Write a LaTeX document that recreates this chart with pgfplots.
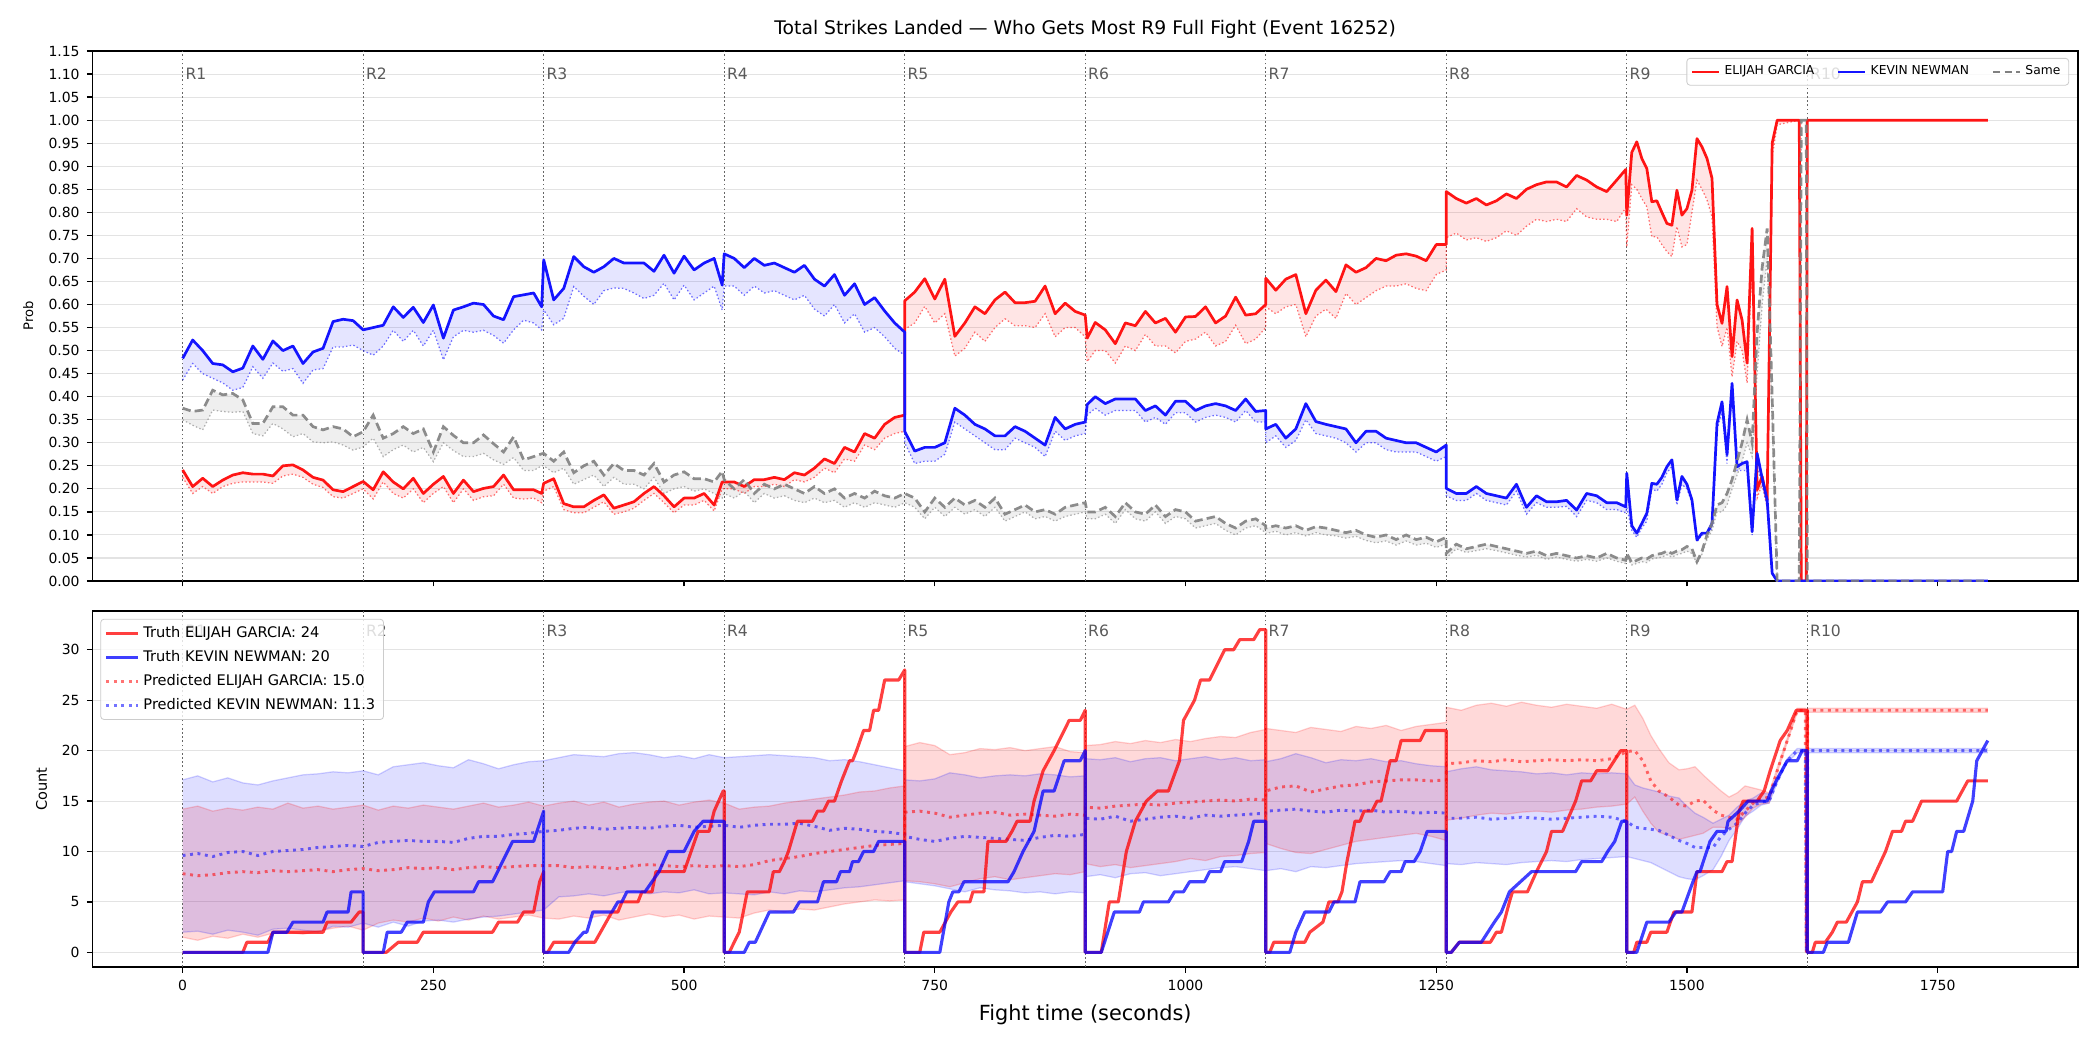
\documentclass[border=0pt]{standalone}
\usepackage{fontspec}
\setmainfont{DejaVu Sans}
\usepackage{pgfplots}
\usepackage{pgfplotstable}
\pgfplotsset{compat=1.18}
\usepgfplotslibrary{fillbetween}
\definecolor{lr}{RGB}{255,20,20}
\definecolor{lb}{RGB}{20,20,255}
\definecolor{lg}{RGB}{128,128,128}
\definecolor{rl}{RGB}{90,90,90}

\pgfplotstableread[row sep=\\]{
t E El K Kl S Sl\\
0 0.241 0.225 0.483 0.436 0.375 0.350\\
10 0.205 0.190 0.523 0.472 0.368 0.338\\
20 0.223 0.205 0.500 0.450 0.371 0.328\\
30 0.205 0.190 0.472 0.440 0.414 0.371\\
40 0.219 0.205 0.469 0.430 0.404 0.368\\
50 0.230 0.212 0.454 0.414 0.407 0.366\\
60 0.235 0.215 0.462 0.420 0.393 0.368\\
70 0.232 0.215 0.510 0.465 0.342 0.320\\
80 0.232 0.215 0.481 0.440 0.342 0.315\\
90 0.228 0.212 0.521 0.473 0.378 0.342\\
100 0.250 0.228 0.500 0.455 0.378 0.330\\
110 0.252 0.232 0.510 0.461 0.360 0.313\\
120 0.241 0.225 0.472 0.429 0.360 0.320\\
130 0.225 0.210 0.497 0.458 0.335 0.302\\
140 0.219 0.203 0.505 0.461 0.328 0.300\\
150 0.198 0.183 0.563 0.508 0.335 0.302\\
160 0.194 0.180 0.568 0.508 0.330 0.295\\
170 0.205 0.190 0.565 0.512 0.313 0.284\\
180 0.216 0.200 0.545 0.500 0.324 0.291\\
190 0.198 0.178 0.550 0.490 0.360 0.310\\
200 0.237 0.215 0.555 0.510 0.310 0.270\\
210 0.215 0.190 0.595 0.544 0.320 0.285\\
220 0.200 0.180 0.572 0.520 0.335 0.295\\
230 0.223 0.200 0.594 0.544 0.320 0.280\\
240 0.190 0.170 0.561 0.510 0.330 0.290\\
250 0.210 0.190 0.599 0.544 0.280 0.259\\
260 0.227 0.205 0.527 0.480 0.335 0.300\\
270 0.190 0.170 0.588 0.530 0.316 0.283\\
280 0.219 0.200 0.595 0.544 0.300 0.270\\
290 0.194 0.175 0.603 0.540 0.300 0.270\\
300 0.201 0.183 0.600 0.544 0.317 0.277\\
310 0.205 0.185 0.575 0.533 0.298 0.263\\
320 0.230 0.210 0.567 0.516 0.280 0.253\\
330 0.198 0.180 0.617 0.545 0.313 0.268\\
340 0.198 0.178 0.621 0.566 0.263 0.240\\
350 0.198 0.180 0.625 0.560 0.270 0.240\\
358 0.190 0.170 0.595 0.545 0.276 0.250\\
360 0.212 0.195 0.697 0.588 0.277 0.250\\
370 0.222 0.205 0.610 0.556 0.260 0.235\\
380 0.168 0.155 0.635 0.570 0.280 0.245\\
390 0.161 0.148 0.704 0.639 0.235 0.210\\
400 0.161 0.148 0.682 0.618 0.250 0.220\\
410 0.175 0.160 0.670 0.600 0.260 0.230\\
420 0.187 0.172 0.682 0.630 0.230 0.205\\
430 0.158 0.145 0.700 0.636 0.255 0.225\\
440 0.165 0.150 0.690 0.635 0.240 0.210\\
450 0.172 0.158 0.690 0.625 0.240 0.210\\
460 0.190 0.175 0.690 0.613 0.230 0.200\\
470 0.205 0.190 0.672 0.620 0.255 0.225\\
480 0.185 0.170 0.707 0.646 0.215 0.190\\
490 0.161 0.148 0.668 0.610 0.230 0.200\\
500 0.180 0.165 0.705 0.642 0.237 0.205\\
510 0.180 0.165 0.675 0.610 0.222 0.195\\
520 0.190 0.175 0.690 0.625 0.222 0.200\\
530 0.165 0.152 0.700 0.640 0.215 0.190\\
538 0.215 0.200 0.642 0.588 0.238 0.180\\
540 0.215 0.200 0.710 0.640 0.220 0.190\\
550 0.215 0.200 0.700 0.640 0.200 0.180\\
560 0.205 0.190 0.680 0.620 0.220 0.195\\
570 0.220 0.205 0.700 0.640 0.190 0.170\\
580 0.220 0.205 0.685 0.625 0.210 0.190\\
590 0.225 0.210 0.690 0.630 0.200 0.180\\
600 0.220 0.205 0.680 0.620 0.210 0.185\\
610 0.235 0.220 0.670 0.610 0.200 0.175\\
620 0.230 0.215 0.685 0.620 0.190 0.170\\
630 0.245 0.225 0.655 0.590 0.205 0.180\\
640 0.265 0.245 0.640 0.575 0.190 0.170\\
650 0.255 0.235 0.665 0.600 0.200 0.175\\
660 0.290 0.265 0.620 0.560 0.180 0.160\\
670 0.280 0.260 0.645 0.580 0.190 0.170\\
680 0.320 0.295 0.600 0.540 0.180 0.160\\
690 0.310 0.285 0.615 0.550 0.195 0.170\\
700 0.340 0.310 0.586 0.530 0.185 0.165\\
710 0.355 0.320 0.560 0.505 0.180 0.160\\
720 0.360 0.325 0.540 0.490 0.190 0.170\\
720 0.608 0.546 0.325 0.300 0.190 0.170\\
730 0.627 0.560 0.282 0.255 0.180 0.160\\
740 0.656 0.596 0.290 0.260 0.150 0.135\\
750 0.612 0.560 0.290 0.260 0.180 0.160\\
760 0.655 0.580 0.300 0.275 0.160 0.140\\
770 0.531 0.488 0.375 0.345 0.180 0.160\\
780 0.560 0.505 0.360 0.330 0.165 0.145\\
790 0.595 0.540 0.340 0.315 0.175 0.155\\
800 0.580 0.520 0.330 0.300 0.160 0.140\\
810 0.610 0.550 0.315 0.285 0.180 0.160\\
820 0.627 0.569 0.315 0.285 0.145 0.130\\
830 0.604 0.554 0.335 0.310 0.155 0.140\\
840 0.604 0.554 0.325 0.300 0.165 0.150\\
850 0.607 0.550 0.310 0.290 0.150 0.135\\
860 0.640 0.580 0.295 0.270 0.155 0.140\\
870 0.580 0.530 0.355 0.325 0.145 0.130\\
880 0.603 0.550 0.330 0.305 0.160 0.140\\
890 0.585 0.550 0.340 0.315 0.165 0.145\\
900 0.577 0.530 0.345 0.320 0.170 0.150\\
902 0.527 0.476 0.383 0.360 0.150 0.135\\
910 0.561 0.500 0.400 0.375 0.150 0.135\\
920 0.545 0.500 0.385 0.360 0.160 0.145\\
930 0.515 0.473 0.395 0.370 0.140 0.125\\
940 0.560 0.510 0.395 0.370 0.170 0.155\\
950 0.554 0.500 0.395 0.370 0.150 0.135\\
960 0.585 0.535 0.370 0.345 0.145 0.130\\
970 0.560 0.510 0.380 0.355 0.165 0.150\\
980 0.570 0.510 0.360 0.340 0.140 0.125\\
990 0.540 0.495 0.390 0.365 0.155 0.140\\
1000 0.573 0.520 0.390 0.365 0.150 0.135\\
1010 0.574 0.525 0.370 0.345 0.130 0.115\\
1020 0.595 0.540 0.380 0.355 0.135 0.120\\
1030 0.560 0.510 0.385 0.360 0.140 0.125\\
1040 0.575 0.520 0.380 0.355 0.125 0.110\\
1050 0.616 0.555 0.370 0.345 0.115 0.100\\
1060 0.577 0.515 0.395 0.370 0.130 0.115\\
1070 0.580 0.525 0.368 0.345 0.135 0.120\\
1080 0.600 0.550 0.370 0.345 0.120 0.105\\
1080 0.657 0.595 0.330 0.300 0.115 0.103\\
1090 0.631 0.580 0.340 0.315 0.120 0.108\\
1100 0.655 0.595 0.310 0.290 0.115 0.100\\
1110 0.665 0.600 0.330 0.305 0.120 0.105\\
1120 0.580 0.530 0.385 0.350 0.110 0.098\\
1130 0.631 0.575 0.346 0.320 0.118 0.105\\
1140 0.653 0.590 0.340 0.315 0.115 0.100\\
1150 0.628 0.570 0.335 0.310 0.110 0.098\\
1160 0.686 0.624 0.330 0.300 0.105 0.093\\
1170 0.670 0.600 0.300 0.280 0.110 0.097\\
1180 0.680 0.615 0.325 0.300 0.100 0.088\\
1190 0.700 0.630 0.325 0.300 0.095 0.083\\
1200 0.695 0.640 0.310 0.285 0.100 0.087\\
1210 0.707 0.640 0.305 0.280 0.090 0.078\\
1220 0.710 0.645 0.300 0.280 0.100 0.087\\
1230 0.705 0.635 0.300 0.280 0.090 0.078\\
1240 0.695 0.630 0.290 0.270 0.095 0.082\\
1250 0.730 0.665 0.280 0.260 0.085 0.073\\
1260 0.730 0.675 0.295 0.270 0.095 0.080\\
1260 0.845 0.745 0.201 0.185 0.060 0.050\\
1270 0.830 0.755 0.190 0.175 0.080 0.070\\
1280 0.820 0.740 0.190 0.175 0.070 0.062\\
1290 0.830 0.745 0.205 0.190 0.075 0.066\\
1300 0.816 0.737 0.190 0.175 0.080 0.070\\
1310 0.825 0.745 0.185 0.170 0.075 0.066\\
1320 0.840 0.760 0.180 0.165 0.070 0.061\\
1330 0.830 0.750 0.210 0.195 0.065 0.056\\
1340 0.850 0.770 0.160 0.145 0.060 0.052\\
1350 0.860 0.785 0.185 0.170 0.065 0.056\\
1360 0.866 0.780 0.172 0.160 0.055 0.047\\
1370 0.866 0.785 0.172 0.160 0.060 0.052\\
1380 0.855 0.780 0.175 0.162 0.055 0.047\\
1390 0.880 0.808 0.154 0.140 0.050 0.043\\
1400 0.870 0.790 0.190 0.175 0.055 0.047\\
1410 0.855 0.785 0.185 0.170 0.050 0.043\\
1420 0.845 0.785 0.170 0.155 0.060 0.050\\
1430 0.870 0.780 0.170 0.155 0.050 0.043\\
1439 0.893 0.810 0.161 0.148 0.045 0.038\\
1440 0.794 0.725 0.234 0.160 0.060 0.050\\
1445 0.930 0.860 0.120 0.110 0.040 0.035\\
1450 0.953 0.850 0.104 0.095 0.045 0.038\\
1455 0.917 0.830 0.125 0.115 0.050 0.042\\
1460 0.895 0.812 0.147 0.130 0.048 0.040\\
1465 0.823 0.747 0.212 0.200 0.055 0.048\\
1470 0.825 0.747 0.210 0.195 0.058 0.050\\
1475 0.800 0.730 0.225 0.210 0.060 0.052\\
1480 0.776 0.715 0.248 0.235 0.065 0.057\\
1485 0.772 0.704 0.263 0.248 0.060 0.052\\
1490 0.848 0.769 0.176 0.165 0.065 0.057\\
1495 0.794 0.725 0.227 0.210 0.068 0.060\\
1500 0.808 0.730 0.210 0.200 0.075 0.065\\
1505 0.848 0.800 0.176 0.170 0.070 0.060\\
1510 0.960 0.870 0.089 0.085 0.042 0.038\\
1515 0.942 0.850 0.104 0.100 0.065 0.058\\
1520 0.917 0.827 0.104 0.100 0.100 0.090\\
1525 0.874 0.790 0.125 0.115 0.125 0.110\\
1530 0.600 0.552 0.342 0.330 0.165 0.150\\
1535 0.559 0.509 0.389 0.365 0.170 0.150\\
1540 0.639 0.550 0.274 0.255 0.190 0.165\\
1545 0.487 0.443 0.429 0.410 0.220 0.200\\
1550 0.610 0.520 0.248 0.240 0.260 0.230\\
1555 0.566 0.500 0.255 0.240 0.300 0.260\\
1560 0.473 0.430 0.259 0.240 0.350 0.300\\
1565 0.765 0.700 0.107 0.100 0.300 0.270\\
1570 0.198 0.180 0.277 0.250 0.540 0.450\\
1575 0.227 0.210 0.223 0.210 0.680 0.600\\
1580 0.176 0.160 0.176 0.160 0.765 0.700\\
1585 0.950 0.920 0.017 0.015 0.400 0.350\\
1590 1.000 0.990 0.000 0.000 0.000 0.000\\
1612 1.000 1.000 0.000 0.000 0.000 0.000\\
1614 0.000 0.000 0.000 0.000 1.000 1.000\\
1619 0.000 0.000 0.000 0.000 1.000 1.000\\
1620 1.000 1.000 0.000 0.000 0.000 0.000\\
1800 1.000 1.000 0.000 0.000 0.000 0.000\\
}\toptab

\pgfplotstableread[row sep=\\]{
t rm rlo rhi bm blo bhi\\
0 7.8 1.5 14.2 9.6 2.0 17.1\\
15 7.6 1.2 14.5 9.8 2.1 17.5\\
30 7.7 1.6 14.0 9.5 1.8 16.9\\
45 7.9 1.4 14.3 9.9 2.2 17.3\\
60 8.0 1.8 14.1 10.0 2.0 16.8\\
75 7.9 1.5 14.4 9.6 1.7 16.6\\
90 8.1 1.9 14.2 10.0 2.3 17.0\\
105 8.0 2.0 14.8 10.1 2.4 17.3\\
120 8.1 1.8 14.3 10.2 2.2 17.6\\
135 8.2 2.1 14.5 10.4 2.0 17.7\\
150 8.0 2.4 14.2 10.5 2.6 17.9\\
165 8.2 2.6 14.4 10.6 2.5 17.8\\
180 8.3 2.2 14.6 10.5 2.9 18.0\\
195 8.1 2.9 14.1 10.9 2.5 17.6\\
210 8.2 3.2 14.5 11.0 3.0 18.4\\
225 8.4 3.0 14.3 11.1 2.6 18.6\\
240 8.3 3.4 14.6 11.0 3.1 18.8\\
255 8.4 3.1 14.4 11.0 3.2 18.5\\
270 8.2 3.5 14.2 10.9 3.0 18.3\\
285 8.4 3.2 14.5 11.3 3.3 19.1\\
300 8.5 3.6 14.8 11.5 3.5 18.7\\
315 8.4 3.3 14.4 11.5 3.6 18.2\\
330 8.5 3.5 14.6 11.7 3.8 18.6\\
345 8.6 3.7 14.9 11.8 4.0 18.9\\
360 8.6 3.4 14.5 12.0 4.2 19.0\\
375 8.6 3.3 14.8 12.1 5.5 19.3\\
390 8.4 3.6 15.0 12.3 5.6 19.6\\
405 8.5 3.4 14.6 12.4 5.8 19.5\\
420 8.4 3.7 14.9 12.2 5.6 19.4\\
435 8.3 3.2 14.4 12.3 5.9 19.7\\
450 8.6 3.5 14.7 12.4 6.1 19.8\\
465 8.7 3.8 14.9 12.3 5.8 19.6\\
480 8.6 3.5 15.0 12.5 6.0 19.3\\
495 8.5 3.7 14.6 12.6 5.9 19.5\\
510 8.6 3.3 14.9 12.4 6.2 19.2\\
525 8.5 3.6 15.1 12.5 5.8 19.6\\
540 8.6 3.5 14.8 12.6 5.9 19.3\\
555 8.5 3.4 14.2 12.4 5.8 19.4\\
570 8.7 3.9 14.4 12.6 5.7 19.5\\
585 9.1 4.2 14.5 12.7 6.0 19.6\\
600 9.3 4.0 14.8 12.7 5.8 19.5\\
615 9.5 4.3 15.0 12.8 6.1 19.4\\
630 9.8 4.2 15.2 12.5 6.0 19.3\\
645 10.0 4.5 15.4 12.1 6.2 19.0\\
660 10.2 4.8 15.6 12.3 6.4 19.1\\
675 10.4 5.0 15.9 12.2 6.5 18.9\\
690 10.6 5.2 16.0 12.0 6.7 18.6\\
705 10.7 5.1 16.3 11.9 6.9 18.3\\
720 10.8 5.2 16.5 11.7 7.1 18.0\\
720 13.9 7.1 20.4 11.5 7.0 17.1\\
735 14.0 7.0 20.8 11.2 6.8 17.0\\
750 13.8 6.8 20.5 11.0 6.6 17.2\\
765 13.4 6.5 19.6 11.3 6.3 17.8\\
780 13.6 6.9 19.8 11.5 6.0 17.6\\
795 13.8 7.3 20.2 11.4 6.4 17.3\\
810 13.9 7.5 20.1 11.3 6.2 17.5\\
825 13.6 7.2 20.3 11.2 6.1 17.6\\
840 13.7 7.4 20.0 11.1 5.9 17.5\\
855 13.6 7.6 20.2 11.4 6.0 17.7\\
870 13.5 7.8 20.4 11.6 5.8 17.6\\
885 13.7 7.7 19.9 11.5 6.0 17.4\\
900 13.6 8.0 19.8 11.7 5.9 17.5\\
900 14.4 8.8 20.5 13.3 7.5 19.2\\
915 14.3 8.5 20.6 13.2 7.7 19.1\\
930 14.5 8.7 20.9 13.5 7.4 19.3\\
945 14.6 8.4 20.7 13.0 7.8 18.9\\
960 14.7 8.6 21.0 13.2 7.9 19.2\\
975 14.6 8.8 20.8 13.4 7.6 19.3\\
990 14.8 9.0 21.1 13.5 7.8 19.0\\
1005 14.9 9.3 20.9 13.3 8.0 19.2\\
1020 15.0 9.1 21.2 13.6 8.2 19.4\\
1035 15.1 9.5 21.4 13.5 8.4 19.1\\
1050 15.0 9.6 21.3 13.6 8.5 19.3\\
1065 15.2 9.8 21.8 13.7 8.3 19.0\\
1080 15.1 9.9 22.1 13.8 8.1 19.1\\
1080 16.0 10.8 22.2 14.0 8.1 18.9\\
1095 16.4 10.3 22.0 14.1 8.3 19.2\\
1110 16.5 9.9 21.8 14.2 8.0 19.7\\
1125 15.9 9.8 22.3 14.0 8.5 19.3\\
1140 16.2 10.2 22.1 13.9 8.4 18.8\\
1155 16.5 10.6 21.9 14.1 8.6 19.1\\
1170 16.6 11.0 22.4 14.0 8.8 19.0\\
1185 16.9 11.2 22.2 14.1 8.9 19.2\\
1200 17.0 11.4 22.5 13.9 9.0 18.9\\
1215 17.1 11.6 22.0 14.0 9.1 19.0\\
1230 17.1 11.8 22.4 13.8 9.0 18.7\\
1245 17.0 11.5 22.6 13.9 8.8 18.5\\
1260 17.1 11.1 22.8 13.8 8.6 18.4\\
1260 18.7 13.1 24.3 13.3 8.8 17.9\\
1275 18.8 13.3 24.0 13.3 8.7 18.2\\
1290 19.0 13.6 24.5 13.4 8.9 18.4\\
1305 18.9 13.8 24.7 13.2 8.8 18.1\\
1320 19.1 13.7 24.4 13.3 8.7 18.0\\
1335 18.9 13.9 24.8 13.4 8.9 17.9\\
1350 19.0 14.0 24.5 13.3 9.0 17.7\\
1365 19.1 13.9 24.3 13.2 9.1 17.8\\
1380 19.0 14.1 24.6 13.3 9.0 17.6\\
1395 19.1 14.2 24.4 13.4 9.2 17.8\\
1410 19.0 14.4 24.2 13.5 9.3 17.7\\
1425 19.2 14.5 24.6 13.4 9.4 17.8\\
1440 19.9 14.7 24.1 13.0 9.5 17.7\\
1448 20.0 15.4 24.5 12.4 9.3 16.6\\
1456 19.0 14.0 23.2 12.3 9.1 16.3\\
1464 17.0 12.8 21.5 12.2 8.9 16.1\\
1472 16.0 11.9 20.2 12.1 8.5 15.9\\
1482 15.4 11.6 18.8 11.6 8.0 15.5\\
1492 14.6 11.2 18.1 11.1 7.5 15.3\\
1500 14.5 11.4 18.2 10.8 7.3 14.5\\
1508 15.0 11.6 18.4 10.4 7.2 13.8\\
1516 15.1 11.8 17.6 10.4 7.6 13.4\\
1526 14.1 12.4 16.7 10.4 8.2 12.8\\
1534 13.6 12.4 16.0 11.5 9.5 13.2\\
1542 13.4 12.3 15.4 12.2 11.1 13.6\\
1550 13.2 12.6 15.8 12.8 12.2 14.4\\
1558 14.0 13.4 16.5 13.8 13.5 15.0\\
1566 14.8 14.3 16.3 14.6 14.0 15.3\\
1574 15.2 14.7 16.1 14.9 14.6 15.8\\
1582 15.4 14.8 15.8 15.0 14.8 15.7\\
1590 18.0 17.8 18.3 17.0 16.8 17.2\\
1600 21.0 20.8 21.2 19.0 18.8 19.2\\
1610 24.0 23.8 24.2 20.0 19.8 20.2\\
1618 24.0 23.8 24.2 20.0 19.8 20.2\\
1619 0 0 0 0 0 0\\
1620.5 24.0 23.8 24.2 20.0 19.8 20.2\\
1800 24.0 23.8 24.2 20.0 19.8 20.2\\
}\predtab

\pgfplotsset{
  every axis/.append style={
    scale only axis, enlargelimits=false, clip=true,
    xmin=-90, xmax=1890,
    xtick={0,250,500,750,1000,1250,1500,1750},
    tick align=outside, major tick length=2.6pt,
    xtick pos=left, ytick pos=left,
    tick style={black, line width=0.6pt},
    axis line style={black, line width=0.8pt},
    ymajorgrids, major grid style={black!11, line width=0.5pt},
    ticklabel style={font=\fontsize{6.7}{7}\selectfont},
    /pgf/number format/assume math mode=true,
    /pgf/number format/set thousands separator={},
    legend cell align=left,
  },
}
\tikzset{rlab/.style={anchor=west, inner sep=0pt, xshift=1.2pt, text=rl, font=\fontsize{7.5}{8}\selectfont}}

\begin{document}
\begin{tikzpicture}

\node[font=\fontsize{9}{10}\selectfont] at (520.9pt,489.8pt) {Total Strikes Landed — Who Gets Most R9 Full Fight (Event 16252)};
\node[font=\fontsize{10}{11}\selectfont] at (520.9pt,16.8pt) {Fight time (seconds)};
\node[rotate=90, font=\fontsize{6.3}{7}\selectfont] at (13.5pt,352.3pt) {Prob};
\node[rotate=90, font=\fontsize{7}{8}\selectfont] at (19.9pt,125.3pt) {Count};

% ---------------- top panel ----------------
\begin{axis}[
  at={(44.35pt,225.1pt)}, anchor=south west,
  width=953.1pt, height=254.4pt,
  ymin=0, ymax=1.15,
  ytick={0,0.05,0.1,0.15,0.2,0.25,0.3,0.35,0.4,0.45,0.5,0.55,0.6,0.65,0.7,0.75,0.8,0.85,0.9,0.95,1.0,1.05,1.1,1.15},
  yticklabel style={/pgf/number format/.cd, fixed, fixed zerofill, precision=2},
  xticklabels={},
  legend columns=3,
  legend style={at={(0.9955,0.987)}, anchor=north east,
    font=\fontsize{5.9}{6.5}\selectfont, draw=black!20, fill=white, fill opacity=0.8, text opacity=1,
    rounded corners=1.5pt, inner xsep=2pt, inner ysep=1.5pt,
    /tikz/every even column/.append style={column sep=9pt}},
  legend image code/.code={\draw[#1] (0pt,0pt) -- (13pt,0pt);},
]
\addlegendimage{lr, line width=1.1pt}
\addlegendentry{ELIJAH GARCIA}
\addlegendimage{lb, line width=1.1pt}
\addlegendentry{KEVIN NEWMAN}
\addlegendimage{lg, line width=1.1pt, dash pattern=on 3.5pt off 2pt}
\addlegendentry{Same}

\pgfplotsinvokeforeach{0,180,360,540,720,900,1080,1260,1440,1620}{
  \draw[black!60, line width=0.5pt, dash pattern=on 0.8pt off 1.2pt] (axis cs:#1,0) -- (axis cs:#1,1.15);
}
\node[rlab] at (axis cs:0,1.10) {R1};
\node[rlab] at (axis cs:180,1.10) {R2};
\node[rlab] at (axis cs:360,1.10) {R3};
\node[rlab] at (axis cs:540,1.10) {R4};
\node[rlab] at (axis cs:720,1.10) {R5};
\node[rlab] at (axis cs:900,1.10) {R6};
\node[rlab] at (axis cs:1080,1.10) {R7};
\node[rlab] at (axis cs:1260,1.10) {R8};
\node[rlab] at (axis cs:1440,1.10) {R9};
\node[rlab] at (axis cs:1620,1.10) {R10};

\addplot[name path=pS, draw=none, forget plot] table[x=t,y=S]{\toptab};
\addplot[name path=pSl, draw=none, forget plot] table[x=t,y=Sl]{\toptab};
\addplot[fill=lg, fill opacity=0.13, draw=none, forget plot] fill between[of=pS and pSl];
\addplot[name path=pE, draw=none, forget plot] table[x=t,y=E]{\toptab};
\addplot[name path=pEl, draw=none, forget plot] table[x=t,y=El]{\toptab};
\addplot[fill=red, fill opacity=0.10, draw=none, forget plot] fill between[of=pE and pEl];
\addplot[name path=pK, draw=none, forget plot] table[x=t,y=K]{\toptab};
\addplot[name path=pKl, draw=none, forget plot] table[x=t,y=Kl]{\toptab};
\addplot[fill=blue, fill opacity=0.10, draw=none, forget plot] fill between[of=pK and pKl];

\addplot[lr, opacity=0.6, line width=0.6pt, dash pattern=on 0.7pt off 1.1pt, forget plot] table[x=t,y=El]{\toptab};
\addplot[lb, opacity=0.6, line width=0.6pt, dash pattern=on 0.7pt off 1.1pt, forget plot] table[x=t,y=Kl]{\toptab};
\addplot[lg, opacity=0.6, line width=0.6pt, dash pattern=on 0.7pt off 1.1pt, forget plot] table[x=t,y=Sl]{\toptab};

\addplot[lr, line width=1.3pt, line join=round, forget plot] table[x=t,y=E]{\toptab};
\addplot[lb, line width=1.3pt, line join=round, forget plot] table[x=t,y=K]{\toptab};
\addplot[lg, opacity=0.9, line width=1.3pt, dash pattern=on 4pt off 2pt, forget plot] table[x=t,y=S]{\toptab};
\end{axis}

% ---------------- bottom panel ----------------
\begin{axis}[
  at={(44.35pt,39.8pt)}, anchor=south west,
  width=953.1pt, height=170.9pt,
  ymin=-1.46, ymax=33.84,
  ytick={0,5,10,15,20,25,30},
  legend style={at={(0.004,0.978)}, anchor=north west,
    font=\fontsize{7}{8}\selectfont, draw=black!20, fill=white, fill opacity=0.8, text opacity=1,
    rounded corners=1.5pt, inner xsep=2pt, inner ysep=1.5pt, row sep=0.6pt},
  legend image code/.code={\draw[#1] (0pt,0pt) -- (15pt,0pt);},
]
\addlegendimage{red, opacity=0.75, line width=1.5pt}
\addlegendentry{Truth ELIJAH GARCIA: 24}
\addlegendimage{blue, opacity=0.75, line width=1.5pt}
\addlegendentry{Truth KEVIN NEWMAN: 20}
\addlegendimage{red, opacity=0.55, line width=1.4pt, dash pattern=on 1.4pt off 2.2pt}
\addlegendentry{Predicted ELIJAH GARCIA: 15.0}
\addlegendimage{blue, opacity=0.55, line width=1.4pt, dash pattern=on 1.4pt off 2.2pt}
\addlegendentry{Predicted KEVIN NEWMAN: 11.3}

\pgfplotsinvokeforeach{0,180,360,540,720,900,1080,1260,1440,1620}{
  \draw[black!60, line width=0.5pt, dash pattern=on 0.8pt off 1.2pt] (axis cs:#1,-1.46) -- (axis cs:#1,33.84);
}
\node[rlab] at (axis cs:0,31.9) {R1};
\node[rlab] at (axis cs:180,31.9) {R2};
\node[rlab] at (axis cs:360,31.9) {R3};
\node[rlab] at (axis cs:540,31.9) {R4};
\node[rlab] at (axis cs:720,31.9) {R5};
\node[rlab] at (axis cs:900,31.9) {R6};
\node[rlab] at (axis cs:1080,31.9) {R7};
\node[rlab] at (axis cs:1260,31.9) {R8};
\node[rlab] at (axis cs:1440,31.9) {R9};
\node[rlab] at (axis cs:1620,31.9) {R10};

\addplot[name path=prhi, red, opacity=0.18, line width=0.6pt, forget plot] table[x=t,y=rhi]{\predtab};
\addplot[name path=prlo, red, opacity=0.18, line width=0.6pt, forget plot] table[x=t,y=rlo]{\predtab};
\addplot[fill=red, fill opacity=0.15, draw=none, forget plot] fill between[of=prhi and prlo];
\addplot[name path=pbhi, blue, opacity=0.18, line width=0.6pt, forget plot] table[x=t,y=bhi]{\predtab};
\addplot[name path=pblo, blue, opacity=0.18, line width=0.6pt, forget plot] table[x=t,y=blo]{\predtab};
\addplot[fill=blue, fill opacity=0.13, draw=none, forget plot] fill between[of=pbhi and pblo];

\addplot[red, opacity=0.55, line width=1.4pt, dash pattern=on 1.4pt off 2.2pt, forget plot] table[x=t,y=rm]{\predtab};
\addplot[blue, opacity=0.55, line width=1.4pt, dash pattern=on 1.4pt off 2.2pt, forget plot] table[x=t,y=bm]{\predtab};

\addplot[red, opacity=0.75, line width=1.5pt, line join=round, forget plot] coordinates {
(0,0)(60,0)(64,1)(85,1)(90,2)(140,2)(144,3)(168,3)(176,4)(180,4)
(180,0)(203,0)(215,1)(234,1)(240,2)(309,2)(315,3)(334,3)(340,4)(350,4)(356,7)(360,8)
(360,0)(364,0)(370,1)(411,1)(428,4)(434,4)(438,5)(454,5)(458,6)(468,6)(472,8)(500,8)(514,12)(525,12)(530,14)(539,16)(540,16)
(540,0)(545,0)(555,2)(563,6)(585,6)(589,8)(595,8)(600,9)(604,10)(613,13)(628,13)(633,14)(639,14)(644,15)(650,15)(657,17)(665,19)(668,19)(672,20)(679,22)(685,22)(689,24)(694,24)(700,27)(714,27)(720,28)
(720,0)(735,0)(739,2)(755,2)(766,4)(773,5)(785,5)(788,6)(799,6)(803,11)(821,11)(827,12)(832,13)(845,13)(849,15)(858,18)(869,20)(884,23)(895,23)(900,24)
(900,0)(916,0)(924,5)(933,5)(941,10)(950,13)(961,15)(972,16)(983,16)(994,19)(998,23)(1009,25)(1015,27)(1024,27)(1039,30)(1048,30)(1054,31)(1068,31)(1074,32)(1080,32)
(1080,0)(1084,0)(1088,1)(1119,1)(1124,2)(1137,3)(1143,5)(1152,5)(1156,6)(1161,9)(1169,13)(1174,13)(1178,14)(1186,14)(1191,15)(1195,15)(1204,19)(1210,19)(1215,21)(1234,21)(1239,22)(1260,22)
(1260,0)(1265,0)(1273,1)(1304,1)(1310,2)(1315,2)(1323,5)(1326,6)(1341,6)(1350,8)(1360,10)(1365,12)(1376,12)(1389,15)(1395,17)(1404,17)(1410,18)(1421,18)(1434,20)(1440,20)
(1440,0)(1447,0)(1450,1)(1460,1)(1464,2)(1480,2)(1487,4)(1505,4)(1510,8)(1535,8)(1540,9)(1545,9)(1552,14)(1556,15)(1570,15)(1577,16)(1583,18)(1593,21)(1600,22)(1609,24)(1620,24)
(1620,0)(1625,0)(1628,1)(1638,1)(1645,2)(1650,3)(1659,3)(1670,5)(1675,7)(1684,7)(1698,10)(1705,12)(1714,12)(1718,13)(1725,13)(1734,15)(1769,15)(1780,17)(1800,17)
};
\addplot[blue, opacity=0.75, line width=1.5pt, line join=round, forget plot] coordinates {
(0,0)(85,0)(90,2)(104,2)(110,3)(140,3)(144,4)(165,4)(168,6)(180,6)
(180,0)(200,0)(204,2)(218,2)(224,3)(240,3)(245,5)(251,6)(290,6)(295,7)(309,7)(329,11)(350,11)(360,14)
(360,0)(385,0)(391,1)(400,2)(403,2)(409,4)(428,4)(434,5)(438,5)(443,6)(461,6)(475,8)(484,10)(500,10)(510,12)(519,13)(540,13)
(540,0)(560,0)(565,1)(571,1)(585,4)(609,4)(615,5)(633,5)(639,7)(652,7)(656,8)(665,8)(668,9)(674,9)(679,10)(689,10)(694,11)(720,11)
(720,0)(755,0)(764,5)(768,6)(774,6)(779,7)(823,7)(829,8)(838,10)(849,12)(858,16)(869,16)(879,19)(895,19)(900,20)
(900,0)(916,0)(929,4)(954,4)(958,5)(983,5)(989,6)(998,6)(1004,7)(1019,7)(1024,8)(1035,8)(1039,9)(1056,9)(1063,11)(1068,13)(1080,13)
(1080,0)(1104,0)(1110,2)(1119,4)(1143,4)(1148,5)(1169,5)(1174,7)(1198,7)(1204,8)(1215,8)(1219,9)(1228,9)(1234,10)(1241,12)(1260,12)
(1260,0)(1265,0)(1273,1)(1295,1)(1308,3)(1315,4)(1323,6)(1334,7)(1345,8)(1389,8)(1395,9)(1415,9)(1421,10)(1428,11)(1435,13)(1440,13)
(1440,0)(1450,0)(1460,3)(1482,3)(1489,4)(1495,4)(1506,7)(1510,8)(1513,8)(1523,11)(1530,12)(1539,12)(1541,13)(1552,14)(1561,15)(1580,15)(1584,16)(1589,17)(1600,19)(1610,19)(1615,20)(1620,20)
(1620,0)(1636,0)(1640,1)(1661,1)(1670,4)(1693,4)(1700,5)(1718,5)(1725,6)(1755,6)(1760,10)(1764,10)(1769,12)(1776,12)(1785,15)(1789,19)(1800,21)
};
\end{axis}
\path (0,0) rectangle (1008pt,504pt);
\end{tikzpicture}
\end{document}
